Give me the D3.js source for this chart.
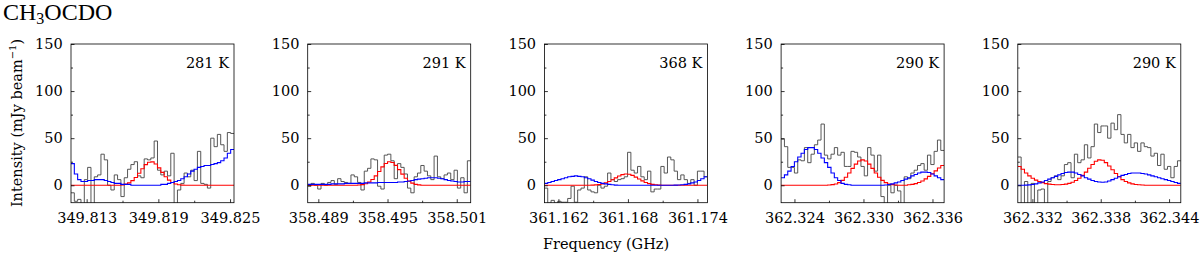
<!DOCTYPE html>
<html>
<head>
<meta charset="utf-8">
<script src="https://cdn.jsdelivr.net/npm/d3@7"></script>
<style>
body { margin: 0; background: #fff; }
text { font-family: "DejaVu Serif", serif; }
</style>
</head>
<body>
<script>
// CH3OCDO line fits, five spectral windows

var temps = ["281 K", "291 K", "368 K", "290 K", "290 K"];
var freqMin = [349.81169, 358.48808, 361.16079, 362.32284, 362.33072];
var freqMax = [349.82533, 358.50221, 361.17486, 362.33701, 362.34503];
var majorTicks = [
    [349.813, 349.819, 349.825],
    [358.489, 358.495, 358.501],
    [361.162, 361.168, 361.174],
    [362.324, 362.330, 362.336],
    [362.332, 362.338, 362.344]
];
var minorTicks = [
    [349.816, 349.822],
    [358.492, 358.498],
    [361.165, 361.171],
    [362.327, 362.333],
    [362.335, 362.341]
];
var yTicks = [0, 50, 100, 150];
var yMinor = [25, 75, 125];

// observed spectra (mJy/beam per channel)
var obs1 = [-8, -17, -15, -20, 6, 19, -20, 9, 11, 33, 27, 0, -5, 11, 6, -12, 8, 17, 22, 25,
    10, 8, 28, 27, 29, 47, 16, 11, 15, 10, 34, -20, -5, 2, 13, 9, 16, 5, 36, 2,
    1, -3, 50, 41, 54, 43, 36, 56, 55];
var obs2 = [-1, 2, 0, -4, 2, 0, 3, 5, 1, 7, 4, 3, 2, 11, 9, 3, -5, 15, 18, 28,
    27, -1, -4, 32, 33, 26, 7, 23, 19, 12, -3, -8, 9, 13, 21, 15, 10, 6, 31, 9,
    7, 11, 13, 6, 16, -3, 8, -8, 26];
var obs3 = [-3, -19, -16, -19, -17, -18, -18, -14, -1, -18, -5, -3, 9, -5, -7, -8, 0, -3, -1, 13,
    6, 4, 6, 7, 9, 35, 16, 13, 20, 9, 6, 15, -7, -4, -4, 20, 13, 30, 27, 15,
    6, 11, 6, 2, 6, 0, 15, 15, 9];
var obs4 = [49, 41, 19, 19, 13, 27, 26, 40, 24, 33, 43, 48, 65, 32, 28, 33, 40, 32, 35, 20,
    20, 36, 35, 30, 20, 10, 40, 32, 15, 32, -12, -20, 0, -8, 0, -6, -20, 9, 7, 13,
    16, 21, 23, 16, 32, 22, 36, 48, 37];
var obs5 = [30, -20, 4, -20, 2, -20, -5, -4, -20, 4, 8, 10, 6, 10, 22, 24, 8, 33, 24, 27,
    43, 29, 41, 65, 56, 63, 63, 50, 66, 59, 75, 54, 45, 54, 40, 45, 36, 45, 41, 40,
    31, 34, 21, 33, 17, 20, 8, 20, 26];

// model for CH3OCDO (red)
var red1 = [0, 0, 0, 0, 0, 0, 0, 0, 0, 0, 0, 0, 0, 0, 0, 0.3, 1.2, 2.6, 4.9, 8.3,
    12.7, 17.6, 21.9, 24.5, 24.8, 22.6, 18.5, 13.7, 9.1, 5.5, 3.0, 1.4, 0.6, 0.2, 0, 0, 0, 0, 0, 0,
    0, 0, 0, 0, 0, 0, 0, 0, 0];
var red2 = [0, 0, 0, 0, 0, 0, 0, 0, 0, 0, 0, 0, 0, 0, 0, 0.3, 0.7, 1.7, 3.4, 6.1,
    10, 14.7, 19.5, 23.2, 25, 24.2, 21.1, 16.6, 11.8, 7.5, 4.3, 2.3, 1.0, 0.4, 0, 0, 0, 0, 0, 0,
    0, 0, 0, 0, 0, 0, 0, 0, 0];
var red3 = [0, 0, 0, 0, 0, 0, 0, 0, 0, 0, 0, 0, 0, 0, 0.2, 0.4, 0.8, 1.5, 2.5, 4.0,
    5.9, 7.9, 9.8, 11.3, 12, 11.7, 10.5, 8.7, 6.6, 4.7, 3.0, 1.8, 1.0, 0.5, 0.2, 0, 0, 0, 0, 0,
    0, 0, 0, 0, 0, 0, 0, 0, 0];
var red4 = [0, 0, 0, 0, 0, 0, 0, 0, 0, 0, 0, 0, 0, 0, 0.3, 0.7, 1.4, 2.8, 5.2, 8.6,
    13, 17.9, 22.5, 25.8, 27, 25.8, 22.5, 17.9, 13, 8.6, 5.2, 2.8, 1.4, 0.7, 0.3, 0, 0, 0, 0.5, 1,
    1.8, 3, 4.6, 6.8, 9.4, 12.3, 15.3, 18.3, 21];
var red5 = [20, 17, 13, 10, 7.5, 5.5, 4, 2.8, 1.8, 1.2, 0.8, 0.6, 0.6, 0.8, 1.2, 2, 3.2, 5, 7.5, 10.5,
    14, 18, 22, 25.5, 27, 26.5, 24, 20.5, 16.5, 12.5, 9, 6, 4, 2.5, 1.5, 0.9, 0.5, 0.3, 0, 0,
    0, 0, 0, 0, 0, 0, 0, 0, 0];

// other species (blue)
var blue1 = [23, 12, 6, 4, 4, 5, 5, 6, 6, 6, 5, 4, 3, 2, 2, 1, 1, 1, 0, 0,
    0, 0, 0, 0, 0, 0, 0, 1, 1, 2, 3, 4, 5, 7, 9, 12, 15, 17, 19, 20,
    21, 21, 22, 23, 24, 26, 29, 34, 38];
var blue2 = [1, 1, 1, 1, 1, 1, 1, 1.5, 1.5, 1.5, 1.5, 2, 2, 2, 2, 2, 2, 2.5, 2.5, 2.5,
    2.5, 3, 3, 3, 3, 3, 3, 3.5, 3.5, 4, 4.5, 5, 6, 6.5, 7, 7.5, 8, 8, 8, 7.5,
    7, 6, 5, 4.5, 4, 3.5, 3.5, 4, 4];
var blue3 = [2, 3, 4, 5, 6, 7, 8, 9, 9.5, 10, 9.5, 9, 8, 7, 5.5, 4, 3, 2, 1.5, 1,
    0.5, 0.2, 0, 0, 0, 0, 0, 0, 0, 0, 0, 0, 0, 0, 0, 0, 0, 0, 0, 0.2,
    0.3, 0.5, 1, 1.5, 2.5, 3.5, 5, 7, 9];
var blue4 = [8, 11, 15, 20, 25, 30, 34, 38, 40, 40, 38, 34, 29, 24, 19, 13, 8, 5, 2, 1,
    0.5, 0, 0, 0, 0, 0, 0, 0, 0, 0, 0, 0.3, 0.8, 1.5, 2.5, 3.5, 5, 6.5, 8, 10,
    11.5, 13, 14, 14, 13.5, 12, 10, 8, 6];
var blue5 = [0, 0, 0.2, 0.4, 0.8, 1.5, 2.5, 3.5, 5, 6.5, 8, 9.5, 11, 12.5, 13.5, 14, 14, 13, 11.5, 10,
    8, 6.5, 5, 4, 3.5, 3.2, 3.5, 4.5, 6, 7.5, 9, 10.5, 11.5, 12.5, 13, 13, 13, 12.5, 12, 11,
    10, 9, 8, 7, 6, 5, 4, 3, 2];

var observed = [obs1, obs2, obs3, obs4, obs5];
var redModel = [red1, red2, red3, red4, red5];
var blueModel = [blue1, blue2, blue3, blue4, blue5];

var W = 1200, H = 261;
var left0 = 71, step = 236.7, pw = 163;
var plotTop = 44, plotBottom = 202.7;
var fs = "14.5px";

var svg = d3.select("body").append("svg")
    .attr("width", W)
    .attr("height", H);

// title
var title = svg.append("text")
    .attr("x", 3)
    .attr("y", 20)
    .style("font-family", "'Liberation Serif', serif")
    .style("font-size", "24px")
    .attr("fill", "#000");
title.append("tspan").text("CH");
title.append("tspan").attr("dy", 4).style("font-size", "16px").text("3");
title.append("tspan").attr("dy", -4).text("OCDO");

var y = d3.scaleLinear().domain([-18.5, 150]).range([plotBottom, plotTop]);

// turn channel values into [freq, value] points, with a closing point at the edge
function toSteps(vals, f0, f1) {
    var n = vals.length;
    var dx = (f1 - f0) / n;
    var pts = vals.map(function(v, i) { return [f0 + i * dx, v]; });
    pts.push([f1, vals[n - 1]]);
    return pts;
}

for (var p = 0; p < 5; p++) {
    var x0 = left0 + step * p;
    var x = d3.scaleLinear().domain([freqMin[p], freqMax[p]]).range([x0, x0 + pw]);

    var g = svg.append("g");

    g.append("clipPath").attr("id", "clip" + p)
        .append("rect")
        .attr("x", x0).attr("y", plotTop)
        .attr("width", pw).attr("height", plotBottom - plotTop);

    var line = d3.line()
        .x(function(d) { return x(d[0]); })
        .y(function(d) { return y(d[1]); })
        .curve(d3.curveStepAfter);

    var plot = g.append("g").attr("clip-path", "url(#clip" + p + ")");

    plot.append("path")
        .datum(toSteps(observed[p], freqMin[p], freqMax[p]))
        .attr("d", line)
        .attr("fill", "none")
        .attr("stroke", "#444")
        .attr("stroke-width", 0.9);

    plot.append("path")
        .datum(toSteps(redModel[p], freqMin[p], freqMax[p]))
        .attr("d", line)
        .attr("fill", "none")
        .attr("stroke", "#ff0000")
        .attr("stroke-width", 1.1);

    plot.append("path")
        .datum(toSteps(blueModel[p], freqMin[p], freqMax[p]))
        .attr("d", line)
        .attr("fill", "none")
        .attr("stroke", "#0000ff")
        .attr("stroke-width", 1.1);

    // axes, ticks pointing inward
    var xAxis = d3.axisBottom(x)
        .tickValues(majorTicks[p])
        .tickSize(-3.5)
        .tickPadding(10)
        .tickFormat(d3.format(".3f"));
    var xMinor = d3.axisBottom(x)
        .tickValues(minorTicks[p])
        .tickSize(-2)
        .tickFormat("");
    var yAxis = d3.axisLeft(y)
        .tickValues(yTicks)
        .tickSize(-3.5)
        .tickPadding(8.3);
    var yMin = d3.axisLeft(y)
        .tickValues(yMinor)
        .tickSize(-2)
        .tickFormat("");

    var gx = g.append("g").attr("transform", "translate(0," + plotBottom + ")").call(xAxis);
    var gxm = g.append("g").attr("transform", "translate(0," + plotBottom + ")").call(xMinor);
    var gy = g.append("g").attr("transform", "translate(" + x0 + ",0)").call(yAxis);
    var gym = g.append("g").attr("transform", "translate(" + x0 + ",0)").call(yMin);

    [gx, gxm, gy, gym].forEach(function(a) {
        a.select(".domain").remove();
        a.selectAll("line").attr("stroke", "#000").attr("stroke-width", 0.8);
        a.selectAll("text")
            .style("font-family", "'DejaVu Serif', serif")
            .style("font-size", fs)
            .attr("fill", "#000");
    });

    g.append("rect")
        .attr("x", x0).attr("y", plotTop)
        .attr("width", pw).attr("height", plotBottom - plotTop)
        .attr("fill", "none")
        .attr("stroke", "#000")
        .attr("stroke-width", 0.8);

    g.append("text")
        .attr("x", x0 + pw - 5)
        .attr("y", 68)
        .attr("text-anchor", "end")
        .style("font-size", fs)
        .text(temps[p]);
}

// axis titles
var yl = svg.append("text")
    .attr("transform", "translate(22,123) rotate(-90)")
    .attr("text-anchor", "middle")
    .style("font-size", fs);
yl.append("tspan").text("Intensity (mJy beam");
yl.append("tspan").attr("dy", -6).style("font-size", "10px").text("\u22121");
yl.append("tspan").attr("dy", 6).text(")");

svg.append("text")
    .attr("x", 606)
    .attr("y", 249)
    .attr("text-anchor", "middle")
    .style("font-size", fs)
    .text("Frequency (GHz)");
</script>
</body>
</html>
